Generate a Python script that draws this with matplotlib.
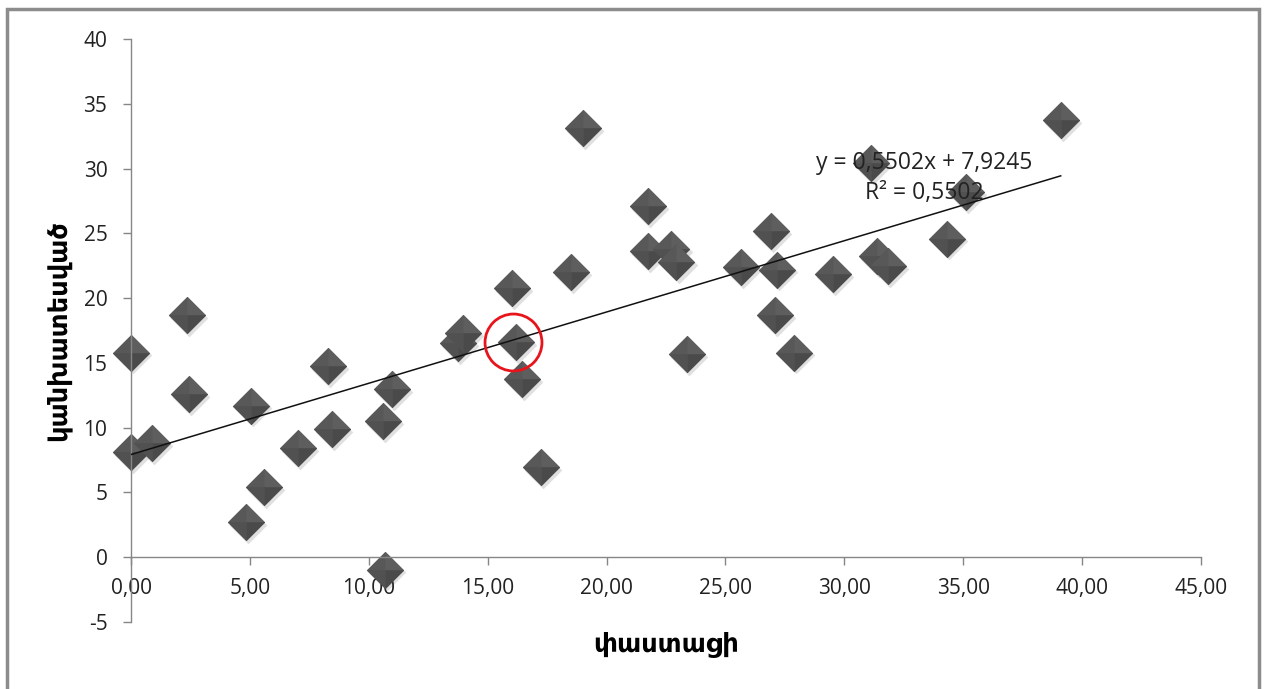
"""Excel-style scatter of actual vs predicted values with a linear trend line."""

import matplotlib

matplotlib.use("Agg")
import matplotlib.pyplot as plt
import matplotlib.transforms as mtransforms
import numpy as np
from matplotlib.patches import Rectangle


# data
actual = [0.00, 0.00, 0.88, 2.35, 2.44, 4.82, 5.05, 5.61, 7.04, 8.30,
          8.47, 10.61, 10.96, 10.68, 13.76, 13.95, 16.04, 16.19, 16.43, 17.24,
          18.49, 19.00, 21.74, 21.74, 22.73, 22.94, 23.40, 25.64, 26.91, 27.18,
          27.08, 27.88, 29.53, 31.12, 31.36, 31.85, 34.30, 35.10, 39.10]
predicted = [15.8, 8.1, 8.8, 18.7, 12.6, 2.7, 11.7, 5.4, 8.4, 14.75,
             9.9, 10.5, 13.0, -0.95, 16.5, 17.3, 20.75, 16.63, 13.75, 6.95,
             22.03, 33.1, 27.1, 23.6, 23.8, 22.8, 15.7, 22.4, 25.2, 22.2,
             18.7, 15.8, 21.85, 30.4, 23.25, 22.5, 24.6, 28.2, 33.75]

slope = 0.5502
intercept = 7.9245
r_squared = 0.5502

highlight_x = [16.08]
highlight_y = [16.63]

x_ticks = [0, 5, 10, 15, 20, 25, 30, 35, 40, 45]
y_ticks = [-5, 0, 5, 10, 15, 20, 25, 30, 35, 40]

x_title = "փաստացի"
y_title = "կանխատեսված"

AXIS_GREY = "#868686"
FONT = ["Open Sans", "DejaVu Sans"]

plt.rcParams["font.family"] = FONT


def fmt_comma(value, decimals):
    return f"{value:.{decimals}f}".replace(".", ",")


def main():
    fig = plt.figure(figsize=(12.67, 6.89), dpi=100)
    ax = fig.add_axes([131 / 1267, 67 / 689, 1070 / 1267, 583 / 689])
    ax.set_xlim(0, 45)
    ax.set_ylim(-5, 40)

    # spines: y axis at x=0, x axis crossing at y=0
    for side in ("top", "right"):
        ax.spines[side].set_visible(False)
    ax.spines["bottom"].set_position(("data", 0))
    for side in ("left", "bottom"):
        ax.spines[side].set_color(AXIS_GREY)
        ax.spines[side].set_linewidth(1.0)

    ax.set_xticks(x_ticks)
    ax.set_xticklabels([fmt_comma(v, 2) for v in x_ticks])
    ax.set_yticks(y_ticks)
    ax.set_yticklabels([str(v) for v in y_ticks])
    ax.tick_params(axis="both", direction="out", length=6, width=1.0,
                   color=AXIS_GREY, labelsize=15, labelcolor="#222222")
    ax.tick_params(axis="y", pad=11)
    ax.tick_params(axis="x", pad=9)

    # diamond markers: faint shadow, solid base, then four softly shaded facets
    diamond = [(-1, 0), (0, 1), (1, 0), (0, -1), (-1, 0)]
    facets = [
        ([(-1, 0), (0, 1), (0, 0), (-1, 0)], "#585858"),
        ([(0, 1), (1, 0), (0, 0), (0, 1)], "#5e5e5e"),
        ([(1, 0), (0, -1), (0, 0), (1, 0)], "#4a4a4a"),
        ([(0, -1), (-1, 0), (0, 0), (0, -1)], "#515151"),
    ]
    size = 700
    shadow = mtransforms.offset_copy(ax.transData, fig=fig, x=1.5, y=-2.0, units="points")
    ax.scatter(actual, predicted, s=size * 1.05, marker=diamond, color="#000000", alpha=0.12,
               linewidths=0, transform=shadow, zorder=1.5, clip_on=False)
    for px, py in zip(actual, predicted):
        ax.scatter([px], [py], s=size, marker=diamond, color="#535353",
                   linewidths=0, zorder=2, clip_on=False)
        for verts, color in facets:
            ax.scatter([px], [py], s=size, marker=verts, color=color,
                       linewidths=0.3, edgecolors=color, zorder=2, clip_on=False)

    # trend line
    trend_x = np.array([0, max(actual)])
    ax.plot(trend_x, slope * trend_x + intercept, color="#111111", lw=1.1, zorder=3)

    ax.text(33.35, 30.4, f"y = {fmt_comma(slope, 4)}x + {fmt_comma(intercept, 4)}",
            ha="center", va="center", fontsize=16.5, color="#222222", zorder=4)
    ax.text(33.35, 28.1, f"R² = {fmt_comma(r_squared, 4)}",
            ha="center", va="center", fontsize=16.5, color="#222222", zorder=4)

    # highlighted point
    ax.plot(highlight_x, highlight_y, marker="o", ms=41, mfc="none", mec="#e8141b",
            mew=2.0, linestyle="none", zorder=5, clip_on=False)

    ax.set_xlabel(x_title, fontsize=18.5, fontweight="bold", va="center",
                  family=["DejaVu Sans"])
    ax.xaxis.set_label_coords(0.5, -0.039)
    ax.set_ylabel(y_title, fontsize=18.5, fontweight="bold", va="center",
                  family=["DejaVu Sans"])
    ax.yaxis.set_label_coords(-0.068, 0.499)

    # outer chart border
    fig.add_artist(Rectangle((7 / 1267, -0.05), 1252 / 1267, 1.05 - 9 / 689,
                             transform=fig.transFigure, fill=False,
                             edgecolor="#8c8c8c", linewidth=2.5))

    fig.savefig("out.png", dpi=100)
    plt.close(fig)


if __name__ == "__main__":
    main()
